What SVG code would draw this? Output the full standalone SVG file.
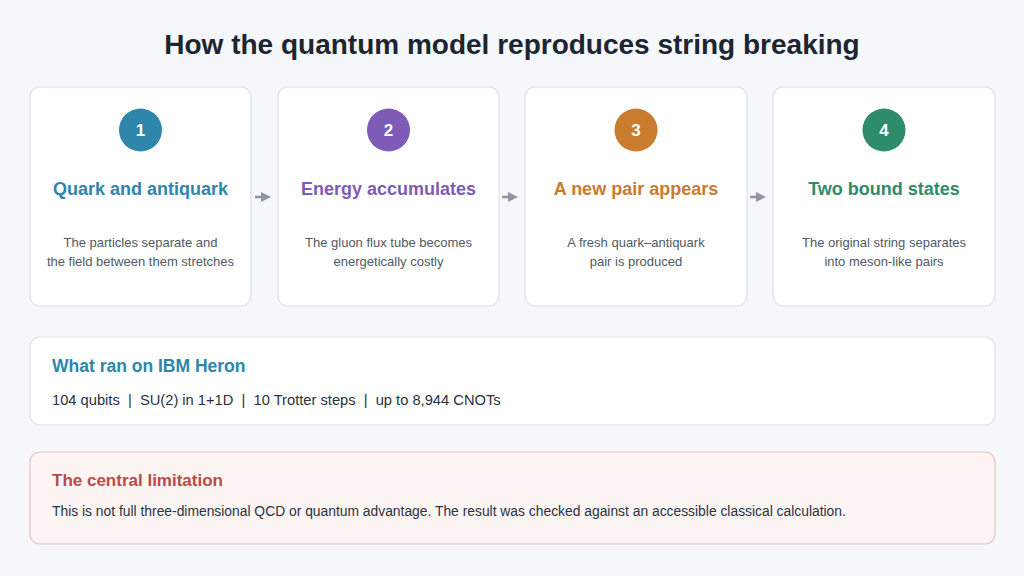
<svg xmlns="http://www.w3.org/2000/svg" width="1024" height="576" viewBox="0 0 1024 576">
<style>
text{font-family:"Liberation Sans",Arial,sans-serif}
.card{fill:#ffffff;stroke:#dbe2ec;stroke-width:1.2}
.num{fill:#fff;font-size:17px;font-weight:bold;text-anchor:middle}
.ttl{font-size:18px;font-weight:bold;text-anchor:middle}
.desc{fill:#4f5a66;font-size:13px;text-anchor:middle}
.arrow{stroke:#8c97a3;stroke-width:2.5;fill:none}
</style>
<defs>
<marker id="ah" viewBox="0 0 10 10" refX="5" refY="5" markerWidth="4" markerHeight="4" orient="auto" markerUnits="strokeWidth">
<path d="M0,0 L10,5 L0,10 z" fill="#8c97a3"/>
</marker>
</defs>
<rect width="1024" height="576" fill="#f5f7fb"/>
<text x="512" y="54" text-anchor="middle" font-size="28" font-weight="bold" fill="#1c2530">How the quantum model reproduces string breaking</text>
<g id="step1">
<rect class="card" x="30" y="87" width="221" height="219" rx="10"/>
<circle cx="140.5" cy="130" r="21.5" fill="#2e86ab"/>
<text class="num" x="140.5" y="136">1</text>
<text class="ttl" x="140.5" y="195" fill="#2e86ab">Quark and antiquark</text>
<text class="desc" x="140.5" y="247">The particles separate and</text>
<text class="desc" x="140.5" y="266">the field between them stretches</text>
</g>
<g id="step2">
<rect class="card" x="278" y="87" width="221" height="219" rx="10"/>
<circle cx="388.5" cy="130" r="21.5" fill="#7d5bb6"/>
<text class="num" x="388.5" y="136">2</text>
<text class="ttl" x="388.5" y="195" fill="#7d5bb6">Energy accumulates</text>
<text class="desc" x="388.5" y="247">The gluon flux tube becomes</text>
<text class="desc" x="388.5" y="266">energetically costly</text>
</g>
<g id="step3">
<rect class="card" x="525" y="87" width="222" height="219" rx="10"/>
<circle cx="636" cy="130" r="21.5" fill="#c97b2e"/>
<text class="num" x="636" y="136">3</text>
<text class="ttl" x="636" y="195" fill="#c97b2e">A new pair appears</text>
<text class="desc" x="636" y="247">A fresh quark–antiquark</text>
<text class="desc" x="636" y="266">pair is produced</text>
</g>
<g id="step4">
<rect class="card" x="773" y="87" width="222" height="219" rx="10"/>
<circle cx="884" cy="130" r="21.5" fill="#2e8b6b"/>
<text class="num" x="884" y="136">4</text>
<text class="ttl" x="884" y="195" fill="#2e8b6b">Two bound states</text>
<text class="desc" x="884" y="247">The original string separates</text>
<text class="desc" x="884" y="266">into meson-like pairs</text>
</g>
<g id="connectors">
<line class="arrow" x1="255" y1="197" x2="266" y2="197" marker-end="url(#ah)"/>
<line class="arrow" x1="502" y1="197" x2="513" y2="197" marker-end="url(#ah)"/>
<line class="arrow" x1="750" y1="197" x2="761" y2="197" marker-end="url(#ah)"/>
</g>
<g id="info">
<rect x="30" y="337" width="965" height="88" rx="10" fill="#ffffff" stroke="#dbe2ec" stroke-width="1.2"/>
<text x="52" y="372" font-size="17.5" font-weight="bold" fill="#2e86ab">What ran on IBM Heron</text>
<text x="52" y="405" font-size="14.7" fill="#2a323c" xml:space="preserve">104 qubits  |  SU(2) in 1+1D  |  10 Trotter steps  |  up to 8,944 CNOTs</text>
</g>
<g id="limitation">
<rect x="30" y="452" width="965" height="92" rx="10" fill="#fdf5f4" stroke="#e6c3be" stroke-width="1.2"/>
<text x="52" y="486" font-size="17" font-weight="bold" fill="#b94a47">The central limitation</text>
<text x="52" y="516" font-size="13.85" fill="#2a323c">This is not full three-dimensional QCD or quantum advantage. The result was checked against an accessible classical calculation.</text>
</g>
</svg>
